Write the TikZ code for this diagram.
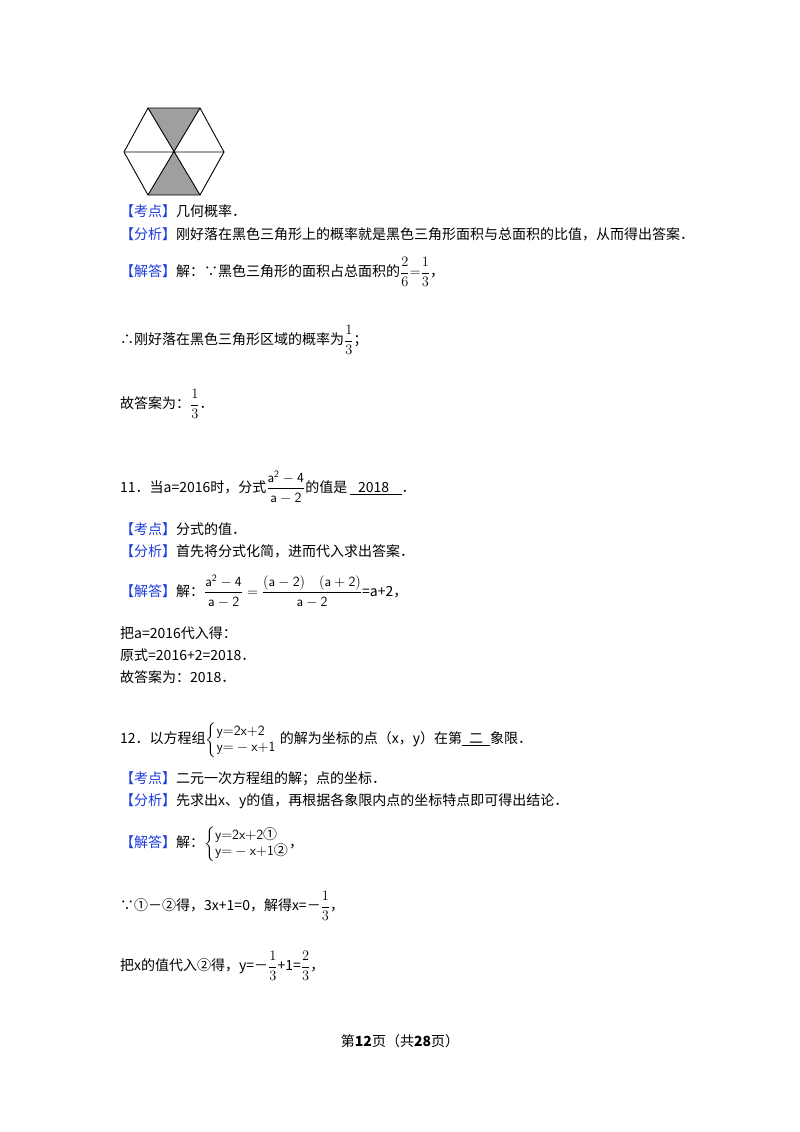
\documentclass[tikz,border=0pt]{standalone}
\usepackage{amsmath}
\usepackage{fontspec}
\setmainfont{Liberation Serif}
\newfontfamily\cjk{Noto Sans CJK SC}
\definecolor{kb}{RGB}{30,60,220}
\begin{document}
\begin{tikzpicture}[x=1pt,y=-1pt]
\tikzset{t/.style={anchor=west,inner sep=0pt,font=\cjk\fontsize{14}{16}\selectfont},
 hexline/.style={line width=0.9pt,black}}
\useasboundingbox[fill=white] (0,0) rectangle (800,1132);
% hexagon
\coordinate (c) at (174,152);
\coordinate (l) at (124,152);\coordinate (r) at (224,152);
\coordinate (tl) at (148,108);\coordinate (tr) at (200,108);
\coordinate (bl) at (148,195);\coordinate (br) at (200,195);
\fill[gray!75] (c)--(tl)--(tr)--cycle;
\fill[gray!75] (c)--(bl)--(br)--cycle;
\draw[hexline] (l)--(tl)--(tr)--(r)--(br)--(bl)--cycle;
\draw[hexline] (l)--(r) (tl)--(br) (tr)--(bl);
\node[t] (a1) at (120,211) {\textcolor{kb}{【考点】}几何概率．};
\node[t] (a2) at (120,234) {\textcolor{kb}{【分析】}刚好落在黑色三角形上的概率就是黑色三角形面积与总面积的比值，从而得出答案．};
\node[t] (a3) at (120,272) {\textcolor{kb}{【解答】}解：∵黑色三角形的面积占总面积的$\dfrac{2}{6}{=}\dfrac{1}{3}$，};
\node[t] (a4) at (120,340) {∴刚好落在黑色三角形区域的概率为$\dfrac{1}{3}$；};
\node[t] (a5) at (120,404) {故答案为：$\dfrac{1}{3}$．};
\node[t] (b1) at (120,487) {11．当a=2016时，分式$\dfrac{\mathsf{a^2-4}}{\mathsf{a-2}}$的值是\,\underline{\hspace{0.6em}2018\hspace{0.9em}}．};
\node[t] (b2) at (120,529) {\textcolor{kb}{【考点】}分式的值．};
\node[t] (b3) at (120,551) {\textcolor{kb}{【分析】}首先将分式化简，进而代入求出答案．};
\node[t] (b4) at (120,591) {\textcolor{kb}{【解答】}解：$\dfrac{\mathsf{a^2-4}}{\mathsf{a-2}}=\dfrac{\mathsf{(a-2)\quad(a+2)}}{\mathsf{a-2}}$=a+2，};
\node[t] (b5) at (120,633) {把a=2016代入得：};
\node[t] (b6) at (120,655) {原式=2016+2=2018．};
\node[t] (b7) at (120,677) {故答案为：2018．};
\node[t] (c1) at (120,740) {12．以方程组$\left\{\begin{array}{@{}l@{}}\mathsf{y{=}2x{+}2}\\ \mathsf{y{=}-x{+}1}\end{array}\right.$\ 的解为坐标的点（x，y）在第\underline{\hspace{0.5em}二\hspace{0.5em}}象限．};
\node[t] (c2) at (120,779) {\textcolor{kb}{【考点】}二元一次方程组的解；点的坐标．};
\node[t] (c3) at (120,801) {\textcolor{kb}{【分析】}先求出x、y的值，再根据各象限内点的坐标特点即可得出结论．};
\node[t] (c4) at (120,844) {\textcolor{kb}{【解答】}解：$\left\{\begin{array}{@{}l@{}}\mathsf{y{=}2x{+}2}\text{①}\\ \mathsf{y{=}-x{+}1}\text{②}\end{array}\right.$，};
\node[t] (c5) at (120,906) {∵①－②得，3x+1=0，解得x=－$\dfrac{1}{3}$，};
\node[t] (c6) at (120,966) {把x的值代入②得，y=－$\dfrac{1}{3}$+1=$\dfrac{2}{3}$，};
\node[t,anchor=center] (p) at (400,1041) {第\textbf{12}页（共\textbf{28}页）};
\end{tikzpicture}
\end{document}
